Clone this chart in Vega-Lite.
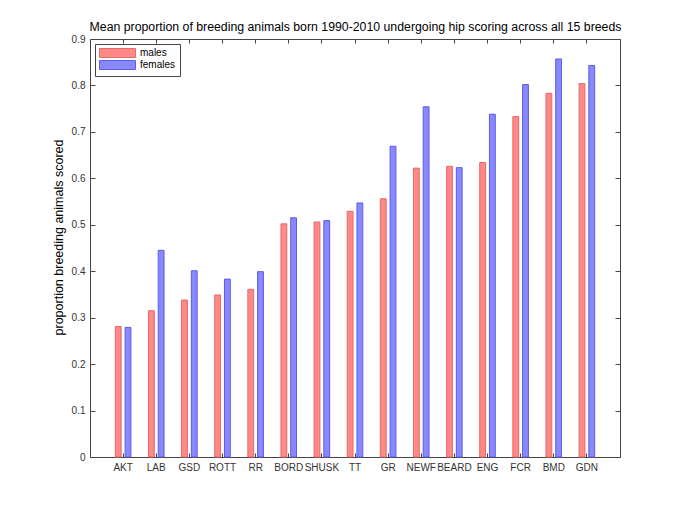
{
  "$schema": "https://vega.github.io/schema/vega-lite/v6.json",
  "width": 530,
  "height": 418,
  "autosize": {"type": "none"},
  "padding": {"left": 90, "top": 39, "right": 65, "bottom": 56},
  "background": "white",
  "config": {
    "font": "Liberation Sans",
    "view": {"stroke": "#444", "strokeWidth": 1},
    "axis": {
      "domain": false,
      "grid": false,
      "tickColor": "#444",
      "labelFont": "Liberation Sans",
      "labelFontSize": 10,
      "labelColor": "#333",
      "titleFont": "Liberation Sans",
      "titleFontWeight": "normal",
      "titleColor": "#000"
    }
  },
  "data": {
    "values": [
      {"breed": "AKT", "sex": "males", "value": 0.281},
      {"breed": "AKT", "sex": "females", "value": 0.279},
      {"breed": "LAB", "sex": "males", "value": 0.315},
      {"breed": "LAB", "sex": "females", "value": 0.445},
      {"breed": "GSD", "sex": "males", "value": 0.338},
      {"breed": "GSD", "sex": "females", "value": 0.401},
      {"breed": "ROTT", "sex": "males", "value": 0.349},
      {"breed": "ROTT", "sex": "females", "value": 0.383},
      {"breed": "RR", "sex": "males", "value": 0.361},
      {"breed": "RR", "sex": "females", "value": 0.399},
      {"breed": "BORD", "sex": "males", "value": 0.502},
      {"breed": "BORD", "sex": "females", "value": 0.515},
      {"breed": "SHUSK", "sex": "males", "value": 0.506},
      {"breed": "SHUSK", "sex": "females", "value": 0.509},
      {"breed": "TT", "sex": "males", "value": 0.529},
      {"breed": "TT", "sex": "females", "value": 0.547},
      {"breed": "GR", "sex": "males", "value": 0.556},
      {"breed": "GR", "sex": "females", "value": 0.669},
      {"breed": "NEWF", "sex": "males", "value": 0.622},
      {"breed": "NEWF", "sex": "females", "value": 0.754},
      {"breed": "BEARD", "sex": "males", "value": 0.626},
      {"breed": "BEARD", "sex": "females", "value": 0.623},
      {"breed": "ENG", "sex": "males", "value": 0.634},
      {"breed": "ENG", "sex": "females", "value": 0.738},
      {"breed": "FCR", "sex": "males", "value": 0.733},
      {"breed": "FCR", "sex": "females", "value": 0.802},
      {"breed": "BMD", "sex": "males", "value": 0.783},
      {"breed": "BMD", "sex": "females", "value": 0.857},
      {"breed": "GDN", "sex": "males", "value": 0.804},
      {"breed": "GDN", "sex": "females", "value": 0.843}
    ]
  },
  "layer": [
    {
      "mark": {"type": "bar", "strokeWidth": 1},
      "encoding": {
        "x": {
          "field": "breed",
          "type": "nominal",
          "sort": null,
          "scale": {"paddingInner": 0.53, "paddingOuter": 0.765},
          "axis": {"title": null, "labelAngle": 0, "tickSize": -4, "labelPadding": 9, "orient": "bottom"}
        },
        "xOffset": {
          "field": "sex",
          "type": "nominal",
          "sort": ["males", "females"],
          "scale": {"paddingInner": 0.4, "paddingOuter": 0}
        },
        "y": {
          "field": "value",
          "type": "quantitative",
          "scale": {"domain": [0, 0.9], "nice": false},
          "axis": {
            "title": "proportion breeding animals scored",
            "titleFontSize": 12.5,
            "titlePadding": 6,
            "titleY": 198,
            "values": [0, 0.1, 0.2, 0.3, 0.4, 0.5, 0.6, 0.7, 0.8, 0.9],
            "format": ".1~f",
            "tickSize": -5,
            "labelPadding": 10,
            "orient": "left"
          }
        },
        "fill": {
          "field": "sex",
          "type": "nominal",
          "sort": ["males", "females"],
          "scale": {"domain": ["males", "females"], "range": ["#ff8888", "#8888ff"]},
          "legend": {
            "title": null,
            "orient": "none",
            "legendX": 5,
            "legendY": 5,
            "strokeColor": "#444",
            "fillColor": "white",
            "padding": 4,
            "symbolType": "M-1,-1H7V1H-1Z",
            "symbolSize": 81,
            "symbolStrokeWidth": 1,
            "labelFontSize": 10,
            "labelColor": "#000",
            "labelOffset": 31,
            "rowPadding": -2
          }
        },
        "stroke": {
          "field": "sex",
          "type": "nominal",
          "sort": ["males", "females"],
          "scale": {"domain": ["males", "females"], "range": ["#e86a6a", "#5c5ce6"]},
          "legend": null
        }
      }
    },
    {
      "mark": {"type": "bar", "opacity": 0},
      "encoding": {
        "x": {
          "field": "breed",
          "type": "nominal",
          "sort": null,
          "axis": {
            "title": "Mean proportion of breeding animals born 1990-2010 undergoing hip scoring across all 15 breeds",
            "titleFontSize": 12.3,
            "titlePadding": 5,
            "titleLimit": 700,
            "labels": false,
            "tickSize": -4,
            "orient": "top"
          }
        },
        "y": {
          "field": "value",
          "type": "quantitative",
          "axis": {
            "title": null,
            "labels": false,
            "values": [0, 0.1, 0.2, 0.3, 0.4, 0.5, 0.6, 0.7, 0.8, 0.9],
            "tickSize": -5,
            "orient": "right"
          }
        }
      }
    }
  ],
  "resolve": {"axis": {"x": "independent", "y": "independent"}}
}
